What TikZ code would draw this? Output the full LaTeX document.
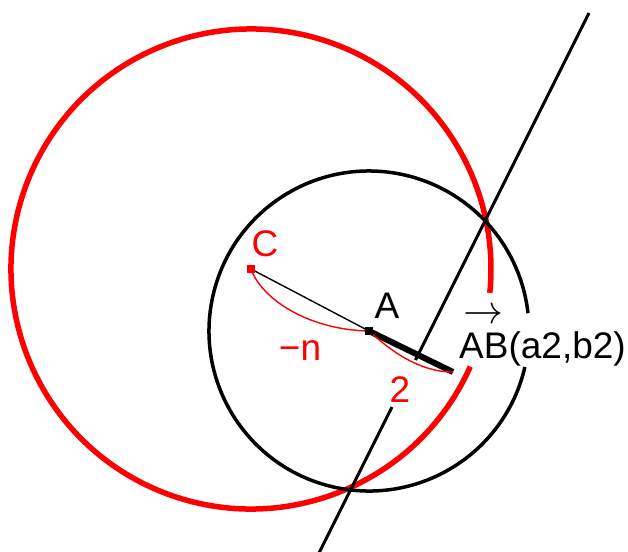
\documentclass[tikz,border=0pt]{standalone}
\usepackage{fontspec}
\setmainfont{Liberation Sans}
\tikzset{
  pnt/.style    = {rectangle, fill, inner sep=0pt, minimum size=8pt},
  lbl/.style    = {font=\fontsize{37}{44}\selectfont, inner sep=0pt},
  circ/.style   = {draw=black, line width=3.5pt},
  rcirc/.style  = {draw=red, line width=5.5pt},
  axln/.style   = {draw=black, line width=3pt},
  thinln/.style = {line width=1.4pt},
  vecln/.style  = {line width=6pt},
  rcurve/.style = {draw=red, line width=1.4pt},
}
\begin{document}
\begin{tikzpicture}[x=1pt, y=-1pt]
\useasboundingbox (0,0) rectangle (628,551);
%% ---- points ----------------------------------------------------------
\coordinate (C) at (251,269);
\coordinate (A) at (369,331);
\coordinate (B) at (453,372);
\coordinate (axtop) at (589,13);
\coordinate (axcut1) at (415.5,360);
\coordinate (axcut2) at (392,407);
\coordinate (axbot) at (317,557);

%% ---- circles (left open behind the label AB) -------------------------
\draw[rcirc] (C) ++(24:240) arc[start angle=24, end angle=365.7, radius=240];
\draw[circ]  (A) ++(13:160) arc[start angle=13, end angle=353.6, radius=160];

%% ---- line through both intersections, open behind the 2 --------------
\draw[axln] (axtop) -- (axcut1);
\draw[axln] (axcut2) -- (axbot);

%% ---- C, A, B ---------------------------------------------------------
\draw[thinln] (C) -- (A);
\draw[vecln]  (A) -- (B);
\draw[rcurve] (C) .. controls (262,300) and (310,330) .. (A);
\draw[rcurve] (A) .. controls (392,352) and (420,372) .. (B);
\node[pnt, red] (Cmark) at (C) {};
\node[pnt]      (Amark) at (A) {};

%% ---- labels ----------------------------------------------------------
\node[lbl, text=red] (lblC) at (265,244) {C};
\node[lbl]           (lblA) at (387,306) {A};
\node[lbl, text=red] (lbln) at (300,351) {−n};
\node[lbl, text=red] (lbl2) at (400,390) {2};
\node[lbl, anchor=base west] (vecarr) at (463,323)
  {\scalebox{4}{\normalsize$\rightarrow$}};
\node[lbl, anchor=base west] (lblAB) at (459,358) {AB(a2,b2)};
\end{tikzpicture}
\end{document}
